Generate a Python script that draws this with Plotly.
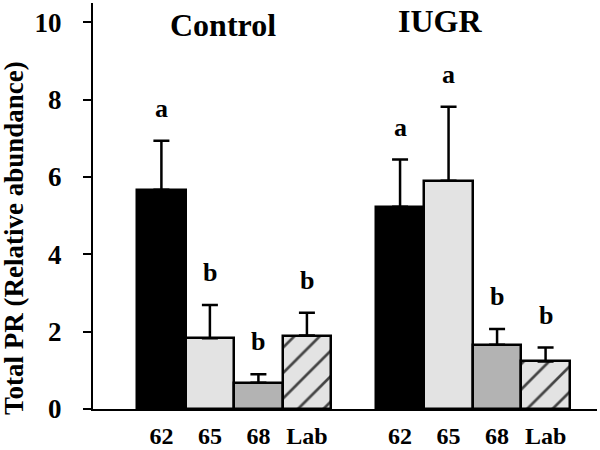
import plotly.graph_objects as go

groups = ["Control", "IUGR"]
categories = ["62", "65", "68", "Lab"]
control_mean = [5.67, 1.83, 0.68, 1.90]
control_err = [1.27, 0.86, 0.22, 0.59]
iugr_mean = [5.23, 5.90, 1.66, 1.23]
iugr_err = [1.22, 1.92, 0.41, 0.36]
control_letters = ["a", "b", "b", "b"]
iugr_letters = ["a", "a", "b", "b"]

FONT = "Liberation Serif, Times New Roman, serif"
fills = ["#000000", "#e3e3e3", "#b3b3b3", "#e3e3e3"]
patterns = ["", "", "", "/"]

group_offset = [0.0, 4.92]
means = [control_mean, iugr_mean]
errs = [control_err, iugr_err]
letters = [control_letters, iugr_letters]

fig = go.Figure()
tickvals, ticktext = [], []
for g, off in enumerate(group_offset):
    xs = [i + off for i in range(len(categories))]
    tickvals += xs
    ticktext += categories
    fig.add_trace(go.Bar(
        x=xs, y=means[g], width=1.0,
        marker=dict(color=fills, line=dict(color="black", width=2.5),
                    pattern=dict(shape=patterns, fgcolor="#000000", fgopacity=1,
                                 size=18, solidity=0.15, fillmode="overlay")),
        error_y=dict(type="data", symmetric=False, array=errs[g],
                     arrayminus=[0] * len(categories), color="black",
                     thickness=2.5, width=8),
        showlegend=False,
    ))
    for x, m, e, t in zip(xs, means[g], errs[g], letters[g]):
        fig.add_annotation(x=x, y=m + e, text=t, showarrow=False, yanchor="bottom",
                           yshift=16, font=dict(family=FONT, size=26, color="black", weight="bold"))

title_x = [1.27, 5.74]
title_y = [0.946, 0.956]
for name, tx, ty in zip(groups, title_x, title_y):
    fig.add_annotation(x=tx, y=ty, yref="paper", text=name, showarrow=False,
                       xanchor="center", yanchor="middle",
                       font=dict(family=FONT, size=32, color="black", weight="bold"))

fig.add_annotation(x=-0.158, y=0.422, xref="paper", yref="paper",
                   xanchor="center", yanchor="middle",
                   text="Total PR (Relative abundance)", textangle=-90, showarrow=False,
                   font=dict(family=FONT, size=27, color="black", weight="bold"))

fig.update_layout(
    width=600, height=450,
    margin=dict(l=93, r=3, t=3, b=41),
    paper_bgcolor="white", plot_bgcolor="white",
    bargap=0,
    xaxis=dict(range=[-1.41, 8.98], tickvals=tickvals, ticktext=ticktext,
               showline=True, linecolor="black", linewidth=2, ticks="",
               showgrid=False, zeroline=False, ticklabelstandoff=4, automargin=False,
               tickfont=dict(family=FONT, size=24, color="black", weight="bold")),
    yaxis=dict(range=[0, 10.5], tickvals=[0, 2, 4, 6, 8, 10],
               showline=True, linecolor="black", linewidth=2,
               ticks="outside", ticklen=8, tickwidth=2, tickcolor="black",
               showgrid=False, zeroline=False, ticklabelstandoff=16, automargin=False,
               tickfont=dict(family=FONT, size=27, color="black", weight="bold")),
)

fig.write_html("out.html", config={"displayModeBar": False},
               post_script="document.body.style.margin='0';")
